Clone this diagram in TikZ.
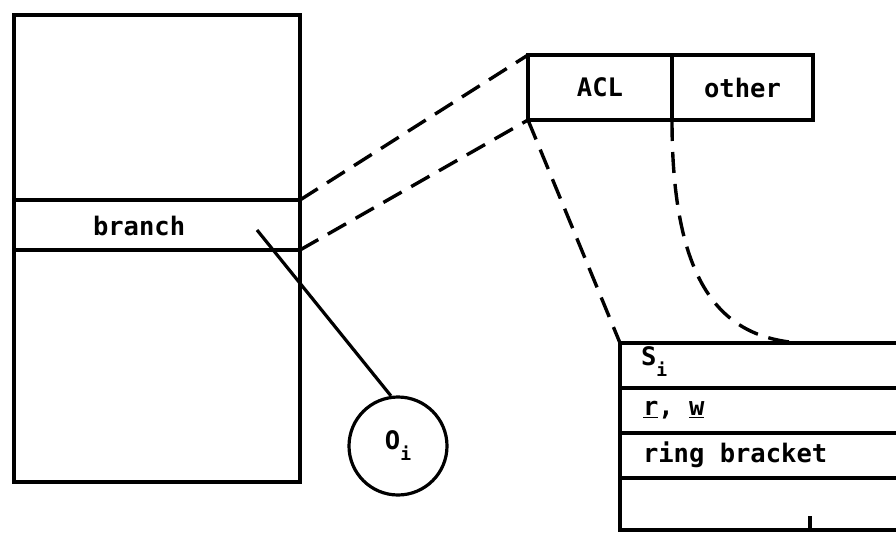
\documentclass[tikz,border=0pt]{standalone}
\usepackage{fontspec}
\setmonofont{DejaVu Sans Mono}
\begin{document}
\begin{tikzpicture}[x=1pt,y=-1pt,
  every node/.style={font=\ttfamily\bfseries\fontsize{25.5}{27}\selectfont},
  cell/.style={draw, line width=3.2pt, rectangle, inner sep=0pt, outer sep=0pt},
  txt/.style={inner sep=0pt, outer sep=0pt, anchor=west},
  link/.style={line width=3.4pt, dash pattern=on 21pt off 11pt},
  solidline/.style={line width=3.2pt}]
\useasboundingbox (0,0) rectangle (896,533);
\clip (0,0) rectangle (896,533);
% left segment
\node[cell, minimum width=286pt, minimum height=467pt] (seg) at (157,248.5) {};
\node[cell, minimum width=286pt, minimum height=50pt] (branch) at (157,225) {};
\node[txt] (branchtxt) at (93,226) {branch};
% ACL / other
\node[cell, minimum width=144pt, minimum height=65pt] (acl) at (600,87.5) {ACL};
\node[cell, minimum width=141pt, minimum height=65pt] (other) at (742.5,87.5) {other};
% circle O_i
\node[draw, circle, line width=3.2pt, minimum size=98pt, inner sep=0pt] (oi) at (398,446)
  {O\raisebox{-11pt}{\fontsize{18}{18}\selectfont i}};
\coordinate (tip) at (257,230);
\draw[solidline] (tip) -- (oi.98);
% bottom-right box rows
\node[cell, minimum width=300pt, minimum height=45pt, anchor=north west] (srow) at (620,343) {};
\node[cell, minimum width=300pt, minimum height=45pt, anchor=north west] (rwrow) at (620,388) {};
\node[cell, minimum width=300pt, minimum height=45pt, anchor=north west] (ringrow) at (620,433) {};
\node[cell, minimum width=300pt, minimum height=52pt, anchor=north west] (lastrow) at (620,478) {};
\node[txt] (stxt) at (641,362) {S\raisebox{-11pt}{\fontsize{18}{18}\selectfont i}};
\node[txt] (rwtxt) at (643,410) {\underline{r}, \underline{w}};
\node[txt] (ringtxt) at (643,455) {ring bracket};
\coordinate (tickb) at (810,530);
\coordinate (ticka) at (810,516);
\draw[solidline] (ticka) -- (tickb);
% dashed connectors
\draw[link] (branch.north east) -- (acl.north west);
\draw[link] (branch.south east) -- (acl.south west);
\draw[link] (acl.south west) -- (srow.north west);
\coordinate (curveend) at (800,343);
\draw[link] (acl.south east) .. controls (672,290) and (725,338) .. (curveend);
\end{tikzpicture}
\end{document}
